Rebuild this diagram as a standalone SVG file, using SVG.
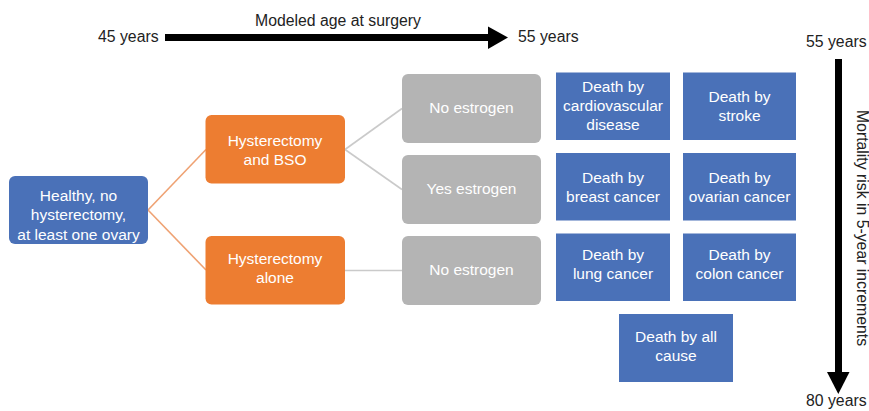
<svg xmlns="http://www.w3.org/2000/svg" width="869" height="411" viewBox="0 0 869 411">
<style>
text{font-family:"Liberation Sans",Arial,sans-serif;font-size:15.5px;}
.lbl{fill:#222;font-size:15.8px;}
.nt{fill:#fff;text-anchor:middle;}
.blue{fill:#4A71B8;}
.org{fill:#ED7D31;}
.gry{fill:#B4B4B4;}
.lo{stroke:#EFA273;stroke-width:1.6;fill:none;}
.lg{stroke:#CACACA;stroke-width:1.6;fill:none;}
</style>
<rect width="869" height="411" fill="#fff"/>
<g id="axes">
<text class="lbl" x="338" y="26" text-anchor="middle">Modeled age at surgery</text>
<text class="lbl" x="98" y="42">45 years</text>
<text class="lbl" x="518" y="42">55 years</text>
<rect x="165" y="34" width="324" height="7" fill="#000"/>
<polygon points="488,26.5 508,37.5 488,49" fill="#000"/>
<text class="lbl" x="806" y="47">55 years</text>
<rect x="835" y="59" width="7" height="314" fill="#000"/>
<polygon points="827,372 849.5,372 838.3,394" fill="#000"/>
<text class="lbl" x="806" y="406">80 years</text>
<text class="lbl" transform="translate(856.5,228) rotate(90)" text-anchor="middle">Mortality risk in 5-year increments</text>
</g>
<g id="connectors">
<line class="lo" x1="148" y1="210" x2="206" y2="149.5"/>
<line class="lo" x1="148" y1="210" x2="206" y2="270"/>
<line class="lg" x1="345" y1="149.5" x2="402" y2="108.5"/>
<line class="lg" x1="345" y1="149.5" x2="402" y2="189.5"/>
<line class="lg" x1="345" y1="270.5" x2="402" y2="270.5"/>
</g>
<g id="healthy">
<rect class="blue" x="9" y="176" width="139" height="68" rx="6"/>
<text class="nt" x="78.5" y="201">Healthy, no</text>
<text class="nt" x="78.5" y="220">hysterectomy,</text>
<text class="nt" x="78.5" y="240">at least one ovary</text>
</g>
<g id="hyst-bso">
<rect class="org" x="205.5" y="115" width="139.5" height="68.5" rx="6"/>
<text class="nt" x="275" y="146">Hysterectomy</text>
<text class="nt" x="275" y="165">and BSO</text>
</g>
<g id="hyst-alone">
<rect class="org" x="205.5" y="236" width="139.5" height="68.5" rx="6"/>
<text class="nt" x="275" y="264">Hysterectomy</text>
<text class="nt" x="275" y="283">alone</text>
</g>
<g id="no-estrogen-1">
<rect class="gry" x="402" y="74" width="139" height="69" rx="6"/>
<text class="nt" x="471.5" y="113">No estrogen</text>
</g>
<g id="yes-estrogen">
<rect class="gry" x="402" y="155" width="139" height="69" rx="6"/>
<text class="nt" x="471.5" y="194">Yes estrogen</text>
</g>
<g id="no-estrogen-2">
<rect class="gry" x="402" y="236" width="139" height="69" rx="6"/>
<text class="nt" x="471.5" y="275">No estrogen</text>
</g>
<g id="death-cvd">
<rect class="blue" x="556" y="72.5" width="114" height="67.5"/>
<text class="nt" x="613" y="92">Death by</text>
<text class="nt" x="613" y="111">cardiovascular</text>
<text class="nt" x="613" y="130">disease</text>
</g>
<g id="death-stroke">
<rect class="blue" x="683" y="72.5" width="113" height="67.5"/>
<text class="nt" x="739.5" y="102">Death by</text>
<text class="nt" x="739.5" y="121">stroke</text>
</g>
<g id="death-breast">
<rect class="blue" x="556" y="153" width="114" height="67.5"/>
<text class="nt" x="613" y="183">Death by</text>
<text class="nt" x="613" y="202">breast cancer</text>
</g>
<g id="death-ovarian">
<rect class="blue" x="683" y="153" width="113" height="67.5"/>
<text class="nt" x="739.5" y="183">Death by</text>
<text class="nt" x="739.5" y="202">ovarian cancer</text>
</g>
<g id="death-lung">
<rect class="blue" x="556" y="233.5" width="114" height="67.5"/>
<text class="nt" x="613" y="260">Death by</text>
<text class="nt" x="613" y="279">lung cancer</text>
</g>
<g id="death-colon">
<rect class="blue" x="683" y="233.5" width="113" height="67.5"/>
<text class="nt" x="739.5" y="260">Death by</text>
<text class="nt" x="739.5" y="279">colon cancer</text>
</g>
<g id="death-all">
<rect class="blue" x="619" y="314" width="114" height="68"/>
<text class="nt" x="676" y="342">Death by all</text>
<text class="nt" x="676" y="361">cause</text>
</g>
</svg>
